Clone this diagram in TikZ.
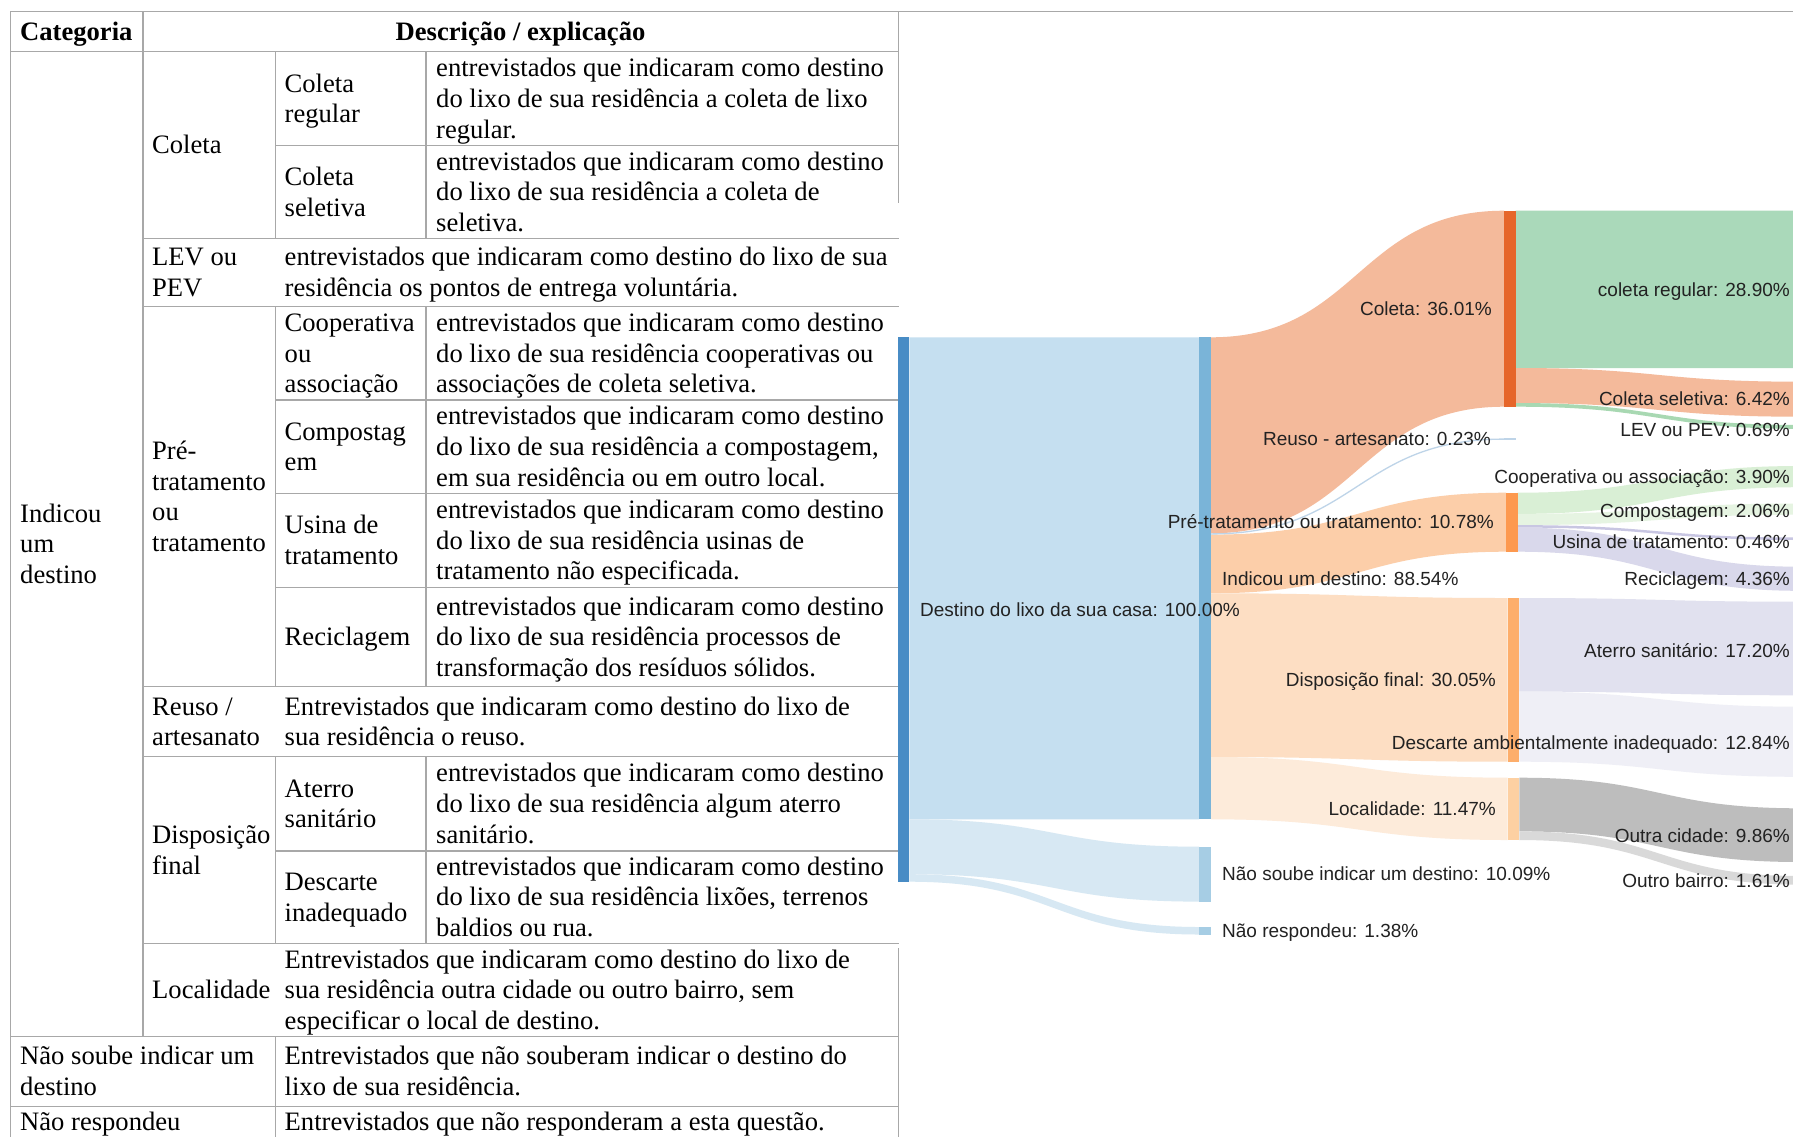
\documentclass[tikz,border=0pt]{standalone}
\usepackage{fontspec}
\setmainfont{Liberation Serif}
\newfontfamily\skfont{Liberation Sans}
\newcommand\tabfont{\fontsize{26.6}{30.6}\selectfont}
\newcommand\lblfont{\skfont\fontsize{19}{22}\selectfont}
\newcommand\tst{\rule[-6.6pt]{0pt}{30.6pt}}
\definecolor{tabgray}{RGB}{168,168,168}
\definecolor{lbltxt}{RGB}{34,34,34}
\definecolor{nSrc}{RGB}{72,140,197}
\definecolor{nInd}{RGB}{122,180,216}
\definecolor{nNao}{RGB}{166,205,228}
\definecolor{lInd}{RGB}{197,223,240}
\definecolor{lNao}{RGB}{215,232,243}
\definecolor{nCol}{RGB}{230,102,42}
\definecolor{lCol}{RGB}{244,186,155}
\definecolor{nPre}{RGB}{253,153,79}
\definecolor{lPre}{RGB}{252,206,169}
\definecolor{nDis}{RGB}{253,174,107}
\definecolor{lDis}{RGB}{253,222,195}
\definecolor{nLoc}{RGB}{253,208,162}
\definecolor{lLoc}{RGB}{253,235,218}
\definecolor{lReuso}{RGB}{190,212,232}
\definecolor{lReg}{RGB}{170,217,186}
\definecolor{lLev}{RGB}{168,216,178}
\definecolor{lCoop}{RGB}{217,239,213}
\definecolor{lComp}{RGB}{230,244,226}
\definecolor{lUsi}{RGB}{200,198,226}
\definecolor{lRec}{RGB}{217,216,235}
\definecolor{lAte}{RGB}{225,225,239}
\definecolor{lDes}{RGB}{239,239,246}
\definecolor{lOci}{RGB}{189,189,189}
\definecolor{lObr}{RGB}{217,217,217}
\newcommand\band[7]{%
  \fill[#7] (#1,#2) .. controls ({(#1+#4)/2},#2) and ({(#1+#4)/2},#5) .. (#4,#5)
  -- (#4,#6) .. controls ({(#1+#4)/2},#6) and ({(#1+#4)/2},#3) .. (#1,#3) -- cycle;}
\newcommand\sbar[6]{%
  \fill[#6] (#2,#3) rectangle (#4,#5);
  \coordinate (#1) at ({(#2+#4)/2},{(#3+#5)/2});}
\tikzset{
  grid/.style={draw=tabgray, line width=1.3pt},
  cell/.style={anchor=west, inner sep=0pt, align=left, font=\tabfont},
  slbl/.style={inner sep=0pt, font=\lblfont, text=lbltxt, text height=13.6pt, text depth=0pt},
  lleft/.style={slbl, anchor=west},
  lright/.style={slbl, anchor=east}
}
\begin{document}
\begin{tikzpicture}[x=1pt,y=-1pt]
\useasboundingbox (0,0) rectangle (1793,1136);
\clip (0,0) rectangle (1793,1136);
\fill[white] (0,0) rectangle (1793,1136);
% ---------------- table grid ----------------
\draw[grid] (10.7,11.3) -- (1793,11.3);
\draw[grid] (10.7,51.7) -- (898.5,51.7);
\draw[grid] (275.5,145.7) -- (898.5,145.7);
\draw[grid] (143,238.3) -- (898.5,238.3);
\draw[grid] (143,306.7) -- (898.5,306.7);
\draw[grid] (275.5,400) -- (898.5,400);
\draw[grid] (275.5,493.3) -- (898.5,493.3);
\draw[grid] (275.5,587.3) -- (898.5,587.3);
\draw[grid] (143,686.7) -- (898.5,686.7);
\draw[grid] (143,756.7) -- (898.5,756.7);
\draw[grid] (275.5,851) -- (898.5,851);
\draw[grid] (143,943.3) -- (898.5,943.3);
\draw[grid] (10.7,1036.7) -- (898.5,1036.7);
\draw[grid] (10.7,1106.3) -- (898.5,1106.3);
\draw[grid] (10.7,11.3) -- (10.7,1140);
\draw[grid] (143,11.3) -- (143,1036.7);
\draw[grid] (275.5,51.7) -- (275.5,238.3);
\draw[grid] (275.5,306.7) -- (275.5,686.7);
\draw[grid] (275.5,756.7) -- (275.5,943.3);
\draw[grid] (275.5,1036.7) -- (275.5,1140);
\draw[grid] (426,51.7) -- (426,238.3);
\draw[grid] (426,306.7) -- (426,686.7);
\draw[grid] (426,756.7) -- (426,943.3);
\draw[grid] (898.5,11.3) -- (898.5,203);
\draw[grid] (898.5,948) -- (898.5,1140);
% ---------------- table text ----------------
\node[cell, font=\tabfont\bfseries] (hcat) at (20,31.5) {\tst Categoria};
\node[cell, anchor=center, font=\tabfont\bfseries] (hdesc) at (520.5,31.5) {\tst Descrição / explicação};
\node[cell] (tind) at (20,544.2) {\tst Indicou\\\tst um\\\tst destino};
\node[cell] (tcol) at (152,145) {\tst Coleta};
\node[cell] (tlev) at (152,272.5) {\tst LEV ou\\\tst PEV};
\node[cell] (tpre) at (152,496.7) {\tst Pré-\\\tst tratamento\\\tst ou\\\tst tratamento};
\node[cell] (treu) at (152,721.7) {\tst Reuso /\\\tst artesanato};
\node[cell] (tdis) at (152,850) {\tst Disposição\\\tst final};
\node[cell] (tloc) at (152,990) {\tst Localidade};
\node[cell] (treg) at (284.5,98.7) {\tst Coleta\\\tst regular};
\node[cell] (tsel) at (284.5,192) {\tst Coleta\\\tst seletiva};
\node[cell] (tcoo) at (284.5,353.3) {\tst Cooperativa\\\tst ou\\\tst associação};
\node[cell] (tcom) at (284.5,446.7) {\tst Compostag\\\tst em};
\node[cell] (tusi) at (284.5,540.3) {\tst Usina de\\\tst tratamento};
\node[cell] (trec) at (284.5,637) {\tst Reciclagem};
\node[cell] (tate) at (284.5,803.8) {\tst Aterro\\\tst sanitário};
\node[cell] (tdes) at (284.5,897.2) {\tst Descarte\\\tst inadequado};
\node[cell] (dlev) at (284.5,272.5) {\tst entrevistados que indicaram como destino do lixo de sua\\\tst residência os pontos de entrega voluntária.};
\node[cell] (dreu) at (284.5,721.7) {\tst Entrevistados que indicaram como destino do lixo de\\\tst sua residência o reuso.};
\node[cell] (dloc) at (284.5,990) {\tst Entrevistados que indicaram como destino do lixo de\\\tst sua residência outra cidade ou outro bairro, sem\\\tst especificar o local de destino.};
\node[cell] (tnso) at (20,1071.5) {\tst Não soube indicar um\\\tst destino};
\node[cell] (dnso) at (284.5,1071.5) {\tst Entrevistados que não souberam indicar o destino do\\\tst lixo de sua residência.};
\node[cell, anchor=base west] (tnre) at (20,1130) {Não respondeu};
\node[cell, anchor=base west] (dnre) at (284.5,1130) {Entrevistados que não responderam a esta questão.};
\node[cell] (dreg) at (436,98.7) {\tst entrevistados que indicaram como destino\\\tst do lixo de sua residência a coleta de lixo\\\tst regular.};
\node[cell] (dsel) at (436,192) {\tst entrevistados que indicaram como destino\\\tst do lixo de sua residência a coleta de\\\tst seletiva.};
\node[cell] (dcoo) at (436,353.3) {\tst entrevistados que indicaram como destino\\\tst do lixo de sua residência cooperativas ou\\\tst associações de coleta seletiva.};
\node[cell] (dcom) at (436,446.7) {\tst entrevistados que indicaram como destino\\\tst do lixo de sua residência a compostagem,\\\tst em sua residência ou em outro local.};
\node[cell] (dusi) at (436,540.3) {\tst entrevistados que indicaram como destino\\\tst do lixo de sua residência usinas de\\\tst tratamento não especificada.};
\node[cell] (drec) at (436,637) {\tst entrevistados que indicaram como destino\\\tst do lixo de sua residência processos de\\\tst transformação dos resíduos sólidos.};
\node[cell] (date) at (436,803.8) {\tst entrevistados que indicaram como destino\\\tst do lixo de sua residência algum aterro\\\tst sanitário.};
\node[cell] (ddes) at (436,897.2) {\tst entrevistados que indicaram como destino\\\tst do lixo de sua residência lixões, terrenos\\\tst baldios ou rua.};
% ---------------- sankey links ----------------
\band{909.3}{337.3}{819.3}{1199}{337.3}{819.3}{lInd}
\band{909.3}{819.3}{874.2}{1199}{846.7}{901.6}{lNao}
\band{909.3}{874.2}{881.7}{1199}{927}{934.5}{lNao}
\band{1211}{337.3}{533.3}{1504}{210.7}{406.7}{lCol}
\band{1211}{534.6}{593.3}{1506}{492.7}{551.7}{lPre}
\band{1211}{593.3}{757}{1507.7}{598}{761.7}{lDis}
\band{1211}{757}{819.3}{1507.7}{777.7}{840}{lLoc}
\draw[lReuso, line width=1.3pt] (1211,533.9) .. controls (1357,533.9) and (1357,439.1) .. (1504,439.1);
\band{1515.7}{210.7}{368}{1800}{210.7}{368}{lReg}
\band{1515.7}{368}{403}{1800}{381.7}{416.7}{lCol}
\band{1515.7}{403}{406.7}{1800}{425}{428.8}{lLev}
\band{1517.7}{492.7}{513.9}{1800}{466}{487.2}{lCoop}
\band{1517.7}{513.9}{525.1}{1800}{503.5}{514.7}{lComp}
\band{1517.7}{525.1}{527.6}{1800}{537.5}{540}{lUsi}
\band{1517.7}{527.6}{551.7}{1800}{566.7}{590.8}{lRec}
\band{1519.3}{598}{691.6}{1800}{601.7}{695.3}{lAte}
\band{1519.3}{691.6}{761.7}{1800}{706.7}{776.8}{lDes}
\band{1519.3}{777.7}{831.4}{1800}{808.3}{862}{lOci}
\band{1519.3}{831.4}{840}{1800}{876}{884.6}{lObr}
% ---------------- sankey nodes ----------------
\sbar{src}{897.7}{337.3}{909.3}{881.7}{nSrc}
\sbar{ind}{1199}{337.3}{1211}{819.3}{nInd}
\sbar{nso}{1199}{846.7}{1211}{901.6}{nNao}
\sbar{nre}{1199}{927}{1211}{934.5}{nNao}
\sbar{col}{1504}{210.7}{1515.7}{406.7}{nCol}
\sbar{reu}{1504}{438.4}{1516}{439.8}{lReuso}
\sbar{pre}{1506}{492.7}{1517.7}{551.7}{nPre}
\sbar{dis}{1507.7}{598}{1519.3}{761.7}{nDis}
\sbar{loc}{1507.7}{777.7}{1519.3}{840}{nLoc}
% ---------------- sankey labels ----------------
\node[lleft] (Lsrc) at (920,610) {Destino do lixo da sua casa: 100.00\%};
\node[lleft] (Lind) at (1222,578.5) {Indicou um destino: 88.54\%};
\node[lleft] (Lnso) at (1222,874) {Não soube indicar um destino: 10.09\%};
\node[lleft] (Lnre) at (1222,931) {Não respondeu: 1.38\%};
\node[lright] (Lcol) at (1492,309) {Coleta: 36.01\%};
\node[lright] (Lreu) at (1491,439) {Reuso - artesanato: 0.23\%};
\node[lright] (Lpre) at (1494,522) {Pré-tratamento ou tratamento: 10.78\%};
\node[lright] (Ldis) at (1496,680) {Disposição final: 30.05\%};
\node[lright] (Lloc) at (1496,809) {Localidade: 11.47\%};
\node[lright] (Lreg) at (1790,290) {coleta regular: 28.90\%};
\node[lright] (Lsel) at (1790,398.5) {Coleta seletiva: 6.42\%};
\node[lright] (Llev) at (1790,429.5) {LEV ou PEV: 0.69\%};
\node[lright] (Lcoo) at (1790,476.5) {Cooperativa ou associação: 3.90\%};
\node[lright] (Lcom) at (1790,510.5) {Compostagem: 2.06\%};
\node[lright] (Lusi) at (1790,541.5) {Usina de tratamento: 0.46\%};
\node[lright] (Lrec) at (1790,578.5) {Reciclagem: 4.36\%};
\node[lright] (Late) at (1790,650.5) {Aterro sanitário: 17.20\%};
\node[lright] (Ldes) at (1790,742.5) {Descarte ambientalmente inadequado: 12.84\%};
\node[lright] (Loci) at (1790,836) {Outra cidade: 9.86\%};
\node[lright] (Lobr) at (1790,880.5) {Outro bairro: 1.61\%};
\end{tikzpicture}
\end{document}
